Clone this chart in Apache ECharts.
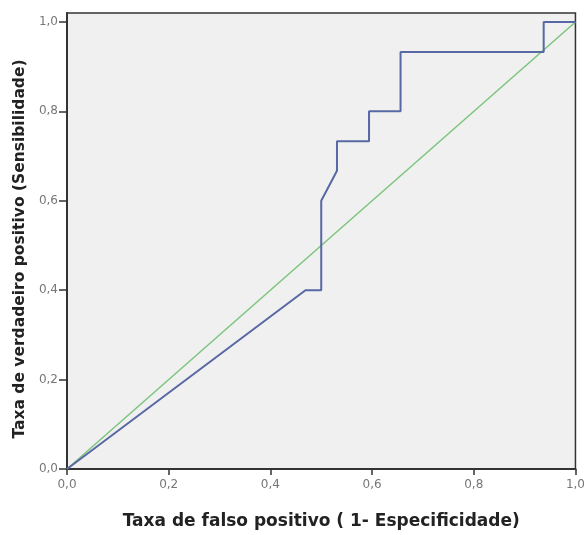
<!DOCTYPE html>
<html>
<head>
<meta charset="utf-8">
<script src="https://cdn.jsdelivr.net/npm/echarts@6/dist/echarts.min.js"></script>
<style>
  html, body { margin: 0; padding: 0; background: #fff; }
  #main { width: 588px; height: 535px; }
</style>
</head>
<body>
<div id="main"></div>
<script>
// ROC curve points (1 - specificity, sensitivity)
var fpr = [0, 0.469, 0.5, 0.5, 0.531, 0.531, 0.594, 0.594, 0.656, 0.656, 0.9375, 0.9375, 1];
var tpr = [0, 0.4, 0.4, 0.6, 0.667, 0.733, 0.733, 0.8, 0.8, 0.933, 0.933, 1, 1];
// reference line
var refX = [0, 1];
var refY = [0, 1];
var tickValues = [0, 0.2, 0.4, 0.6, 0.8, 1];

var fmt = function (v) { return v.toFixed(1).replace('.', ','); };

var myChart = echarts.init(document.getElementById('main'));
var option = {
    animation: false,
    grid: {
        left: 67,
        right: 11,
        top: 13,
        bottom: 59,
        show: true,
        backgroundColor: '#f0f0f0',
        borderColor: '#333',
        borderWidth: 1.5
    },
    xAxis: {
        type: 'value',
        min: 0,
        max: 1,
        interval: 0.2,
        name: 'Taxa de falso positivo ( 1- Especificidade)',
        nameLocation: 'middle',
        nameGap: 44,
        nameTextStyle: { fontSize: 17, fontWeight: 'bold', color: '#222', fontFamily: 'DejaVu Sans' },
        axisLine: { lineStyle: { color: '#333', width: 2 } },
        axisTick: { show: true, length: 6, lineStyle: { color: '#333', width: 1.5 } },
        axisLabel: { formatter: fmt, color: '#777', fontSize: 12, margin: 10, fontFamily: 'DejaVu Sans' },
        splitLine: { show: false }
    },
    yAxis: {
        type: 'value',
        min: 0,
        max: 1.02,
        name: 'Taxa de verdadeiro positivo (Sensibilidade)',
        nameLocation: 'middle',
        nameGap: 38,
        nameTextStyle: { fontSize: 15.5, fontWeight: 'bold', color: '#222', fontFamily: 'DejaVu Sans', padding: [0, 16, 0, 0] },
        axisLine: { lineStyle: { color: '#333', width: 2 } },
        axisTick: { show: true, length: 8, customValues: tickValues, lineStyle: { color: '#333', width: 1.5 } },
        axisLabel: { customValues: tickValues, formatter: fmt, color: '#777', fontSize: 12, margin: 9, fontFamily: 'DejaVu Sans' },
        splitLine: { show: false }
    },
    series: [
        {
            type: 'line',
            data: refX.map(function (x, i) { return [x, refY[i]]; }),
            symbol: 'none',
            lineStyle: { color: '#7cc47c', width: 1.5 },
            z: 2
        },
        {
            type: 'line',
            data: fpr.map(function (x, i) { return [x, tpr[i]]; }),
            symbol: 'none',
            lineStyle: { color: '#5868a4', width: 2 },
            z: 3
        }
    ]
};
myChart.setOption(option);
</script>
</body>
</html>
